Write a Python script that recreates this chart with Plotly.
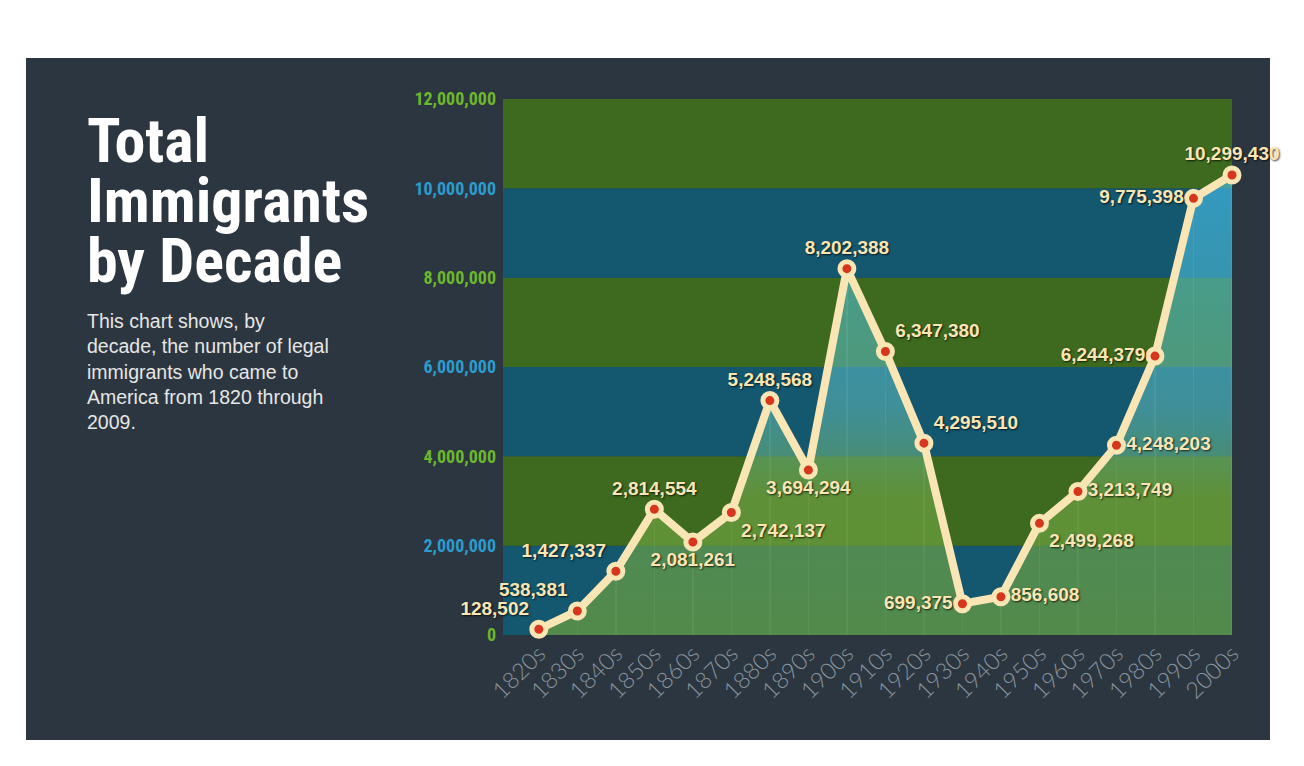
import plotly.graph_objects as go

# decades and total legal immigrants per decade
decades = ["1820s", "1830s", "1840s", "1850s", "1860s", "1870s", "1880s", "1890s", "1900s", "1910s",
           "1920s", "1930s", "1940s", "1950s", "1960s", "1970s", "1980s", "1990s", "2000s"]
immigrants = [128502, 538381, 1427337, 2814554, 2081261, 2742137, 5248568, 3694294, 8202388, 6347380,
              4295510, 699375, 856608, 2499268, 3213749, 4248203, 6244379, 9775398, 10299430]

# where each value label sits relative to its point
label_pos = ["top left", "top left", "top left", "top center", "bottom center", "bottom right",
             "top center", "bottom center", "top center", "top right", "top right", "middle left",
             "middle right", "bottom right", "middle right", "middle right", "middle left",
             "middle left", "top center"]

y_ticks = [0, 2000000, 4000000, 6000000, 8000000, 10000000, 12000000]
y_tick_labels = ["0", "2,000,000", "4,000,000", "6,000,000", "8,000,000", "10,000,000", "12,000,000"]

PANEL = "#2c3640"
GREEN_BAND = "#3d6a1e"
BLUE_BAND = "#145870"
GREEN_TXT = "#6cb82c"
BLUE_TXT = "#2a9dce"
CREAM = "#fae5b4"
RED = "#d6371c"
COND = "Roboto Condensed, Roboto"

tick_text = []
for i, t in enumerate(y_tick_labels):
    c = GREEN_TXT if i % 2 == 0 else BLUE_TXT
    tick_text.append(f"<span style='color:{c}'>{t}</span>")

fig = go.Figure()

# translucent area under the line, greener at the bottom, bluer at the top
fig.add_trace(go.Scatter(
    x=decades, y=immigrants, mode="none", fill="tozeroy",
    fillgradient=dict(type="vertical",
                      colorscale=[[0, "rgba(112,162,58,0.68)"],
                                  [0.3, "rgba(115,168,72,0.62)"],
                                  [0.5, "rgba(95,185,185,0.57)"],
                                  [0.7, "rgba(85,195,215,0.55)"],
                                  [1, "rgba(72,198,248,0.6)"]],
                      start=0),
    hoverinfo="skip", showlegend=False))

# faint vertical lines inside the area
fig.add_trace(go.Bar(
    x=decades, y=immigrants, width=0.035,
    marker=dict(color="rgba(235,240,190,0.13)", line_width=0),
    hoverinfo="skip", showlegend=False))

fig.add_trace(go.Scatter(
    x=decades, y=immigrants, mode="lines+markers+text",
    line=dict(color=CREAM, width=8),
    marker=dict(size=14, color=RED, line=dict(color=CREAM, width=5)),
    text=[f"{v:,}" for v in immigrants],
    textposition=label_pos,
    textfont=dict(family="Liberation Sans, Arial", size=19, color=CREAM, weight="bold",
                  shadow="1px 1px 2px rgba(0,0,0,0.75)"),
    cliponaxis=False, showlegend=False))

# dark panel behind everything
shapes = [dict(type="rect", xref="paper", yref="paper",
               x0=-0.6543, x1=1.0521, y0=-0.1959, y1=1.0765,
               fillcolor=PANEL, line_width=0, layer="below")]
for i in range(len(y_ticks) - 1):
    shapes.append(dict(type="rect", xref="x domain", yref="y", x0=0, x1=1,
                       y0=y_ticks[i], y1=y_ticks[i + 1],
                       fillcolor=BLUE_BAND if i % 2 == 0 else GREEN_BAND,
                       line_width=0, layer="below"))

title_lines = ["Total", "Immigrants", "by Decade"]
annotations = []
for i, line in enumerate(title_lines):
    annotations.append(dict(
        text=line, xref="paper", yref="paper", x=-0.574, y=(635 - 141 - 59.5 * i) / 536,
        xanchor="left", yanchor="middle", showarrow=False,
        font=dict(family=COND, size=62, color="white", weight="bold")))
annotations.append(dict(
    text="This chart shows, by<br>decade, the number of legal<br>immigrants who came to"
         "<br>America from 1820 through<br>2009.",
    xref="paper", yref="paper", x=-0.574, y=(635 - 308) / 536,
    xanchor="left", yanchor="top", align="left", showarrow=False,
    font=dict(family="Liberation Sans", size=19.5, color="#e6e6e6")))

fig.update_layout(
    width=1296, height=758,
    margin=dict(l=495, r=72, t=91, b=131),
    paper_bgcolor="white", plot_bgcolor="rgba(0,0,0,0)",
    shapes=shapes, annotations=annotations,
    bargap=0,
    xaxis=dict(type="category", range=[-0.93, 18], showgrid=False, zeroline=False,
               showline=False, ticks="", tickangle=-45,
               tickfont=dict(family="Lato", size=23, color="#8a949e", weight=300)),
    yaxis=dict(range=[0, 12000000], tickvals=y_ticks, ticktext=tick_text,
               showgrid=False, zeroline=False, showline=False, ticks="",
               ticklabelstandoff=6,
               tickfont=dict(family=COND, size=18, weight="bold")),
)

fig.write_html("out.html")
